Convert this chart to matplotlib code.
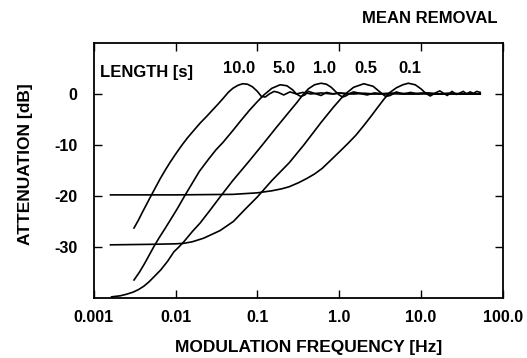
import matplotlib
matplotlib.use("Agg")
import matplotlib.pyplot as plt

plt.rcParams['font.family'] = ['Liberation Sans', 'DejaVu Sans']
plt.rcParams['font.weight'] = 'bold'

# Curves (frequency in Hz, attenuation in dB)
f_10 = [0.0031, 0.0035, 0.0039, 0.0044, 0.005, 0.0057, 0.0065, 0.0075, 0.0085, 0.01, 0.012, 0.014,
        0.0166, 0.02, 0.024, 0.0285, 0.033, 0.038, 0.044, 0.05, 0.058, 0.066, 0.076, 0.087, 0.1,
        0.112, 0.125, 0.14, 0.16, 0.18, 0.21, 0.25, 0.3, 0.36, 0.45, 0.6, 0.8, 1.0, 1.5, 2.0, 3.0,
        5.0, 8.0, 12.0, 20.0, 35.0, 53.0]
db_10 = [-26.3, -24.8, -23.3, -21.7, -20.0, -18.3, -16.6, -14.9, -13.5, -11.8, -10.0, -8.6,
         -7.2, -5.7, -4.4, -3.1, -2.0, -0.9, 0.3, 1.1, 1.7, 2.0, 1.9, 1.4, 0.5,
         -0.5, -0.6, 0.0, 0.5, 0.3, -0.2, 0.4, 0.0, 0.3, 0.0, 0.2, 0.0, 0.15, 0.0, 0.1, 0.0,
         0.1, 0.0, 0.1, 0.0, 0.05, 0.0]

f_5 = [0.0031, 0.0036, 0.0042, 0.0048, 0.0054, 0.0063, 0.0075, 0.0088, 0.0105, 0.0129, 0.016,
       0.0195, 0.025, 0.031, 0.038, 0.05, 0.063, 0.08, 0.1, 0.12, 0.15, 0.19, 0.23, 0.27, 0.3, 0.34,
       0.38, 0.42, 0.5, 0.6, 0.7, 0.85, 1.0, 1.3, 1.7, 2.5, 4.0, 6.0, 10.0, 15.0, 25.0, 40.0, 53.0]
db_5 = [-36.5, -35.0, -33.2, -31.5, -30.0, -28.2, -26.3, -24.5, -22.5, -20.0, -17.5,
        -15.2, -12.9, -11.0, -9.5, -7.2, -5.2, -3.2, -1.5, -0.2, 1.1, 1.8, 1.6, 0.8, 0.0, -0.5,
        -0.2, 0.5, 0.1, -0.3, 0.3, 0.0, 0.2, 0.0, 0.15, 0.0, 0.1, 0.0, 0.1, 0.0, 0.05, 0.0, 0.0]

f_1 = [0.00165, 0.0021, 0.0025, 0.003, 0.0035, 0.0041, 0.0047, 0.0055, 0.0066, 0.008, 0.0095,
       0.011, 0.0126, 0.016, 0.02, 0.027, 0.035, 0.05, 0.08, 0.115, 0.17, 0.245, 0.3, 0.355, 0.42,
       0.5, 0.6, 0.7, 0.8, 0.9, 1.0, 1.1, 1.2, 1.35, 1.5, 1.8, 2.2, 2.7, 3.5, 5.0, 7.0, 10.0, 15.0,
       25.0, 40.0, 53.0]
db_1 = [-39.8, -39.6, -39.3, -38.9, -38.4, -37.7, -36.9, -35.8, -34.5, -32.8, -31.0,
        -30.0, -29.0, -27.0, -25.3, -22.6, -20.2, -17.0, -13.1, -10.0, -6.6, -3.5, -1.8, -0.3, 1.0,
        1.8, 2.1, 1.9, 1.3, 0.5, -0.2, -0.6, -0.4, 0.1, 0.4, 0.1, -0.2, 0.2, 0.0, 0.15, 0.0, 0.1, 0.0,
        0.05, 0.0, 0.0]

f_05 = [0.0016, 0.005, 0.01, 0.0126, 0.016, 0.022, 0.035, 0.051, 0.07, 0.1, 0.15, 0.245, 0.37, 0.6,
        0.85, 1.15, 1.5, 2.0, 2.6, 3.2, 3.7, 4.2, 5.0, 6.0, 7.5, 9.0, 12.0, 16.0, 22.0, 30.0, 40.0, 53.0]
db_05 = [-29.6, -29.5, -29.4, -29.3, -29.0, -28.3, -26.8, -25.0, -22.7, -20.2, -17.0, -13.5, -10.0,
         -5.6, -2.6, -0.2, 1.3, 2.0, 1.5, 0.3, -0.5, -0.3, 0.4, 0.0, 0.3, 0.0, 0.2, 0.0, 0.15, 0.0, 0.1, 0.0]

f_01 = [0.0016, 0.01, 0.05, 0.1, 0.15, 0.2, 0.245, 0.32, 0.4, 0.5, 0.62, 0.8, 1.0, 1.3, 1.6, 2.0,
        2.5, 3.0, 3.5, 4.1, 5.0, 6.0, 7.0, 8.5, 10.0, 11.5, 13.0, 15.0, 17.0, 19.0, 21.0, 24.0, 27.0,
        30.0, 33.0, 36.0, 40.0, 44.0, 48.0, 53.0]
db_01 = [-19.8, -19.8, -19.7, -19.4, -19.0, -18.6, -18.2, -17.4, -16.6, -15.7, -14.6, -12.9, -11.4,
         -9.6, -8.1, -6.2, -4.2, -2.5, -1.1, 0.2, 1.2, 1.8, 2.1, 1.8, 1.0, 0.1, -0.4, 0.2, 0.6, 0.1,
         -0.3, 0.5, -0.1, 0.2, 0.5, 0.0, 0.4, 0.1, 0.5, 0.3]

series = [(f_10, db_10), (f_5, db_5), (f_1, db_1), (f_05, db_05), (f_01, db_01)]
length_labels = ["10.0", "5.0", "1.0", "0.5", "0.1"]
length_label_x = [0.059, 0.214, 0.66, 2.14, 7.4]

x_ticks = [0.001, 0.01, 0.1, 1.0, 10.0, 100.0]
x_tick_labels = ["0.001", "0.01", "0.1", "1.0", "10.0", "100.0"]
y_ticks = [0, -10, -20, -30]
y_tick_labels = ["0", "-10", "-20", "-30"]

fig = plt.figure(figsize=(5.27, 3.58), dpi=100)
ax = fig.add_axes([0.178, 0.168, 0.776, 0.712])

for fx, dbv in series:
    ax.plot(fx, dbv, color='black', lw=1.2)

ax.set_xscale('log')
ax.set_xlim(0.001, 100)
ax.set_ylim(-40, 10)
ax.set_xticks(x_ticks)
ax.set_xticklabels(x_tick_labels)
ax.minorticks_off()
ax.set_yticks(y_ticks)
ax.set_yticklabels(y_tick_labels)
ax.tick_params(direction='in', length=6, width=1.0, top=True, right=True, labelsize=11.5)
ax.tick_params(axis='x', pad=9)
ax.tick_params(axis='y', pad=12)
for lab in ax.get_xticklabels() + ax.get_yticklabels():
    lab.set_fontweight('bold')
for s in ax.spines.values():
    s.set_linewidth(1.3)

ax.text(0.00118, 4.3, "LENGTH [s]", fontsize=12, fontweight='bold', ha='left', va='center')
for lbl, lx in zip(length_labels, length_label_x):
    ax.text(lx, 5.0, lbl, fontsize=12, fontweight='bold', ha='center', va='center')

ax.set_xlabel("MODULATION FREQUENCY [Hz]", fontsize=12.5, fontweight='bold')
ax.xaxis.set_label_coords(0.525, -0.165)
ax.set_ylabel("ATTENUATION [dB]", fontsize=12.5, fontweight='bold')
ax.yaxis.set_label_coords(-0.148, 0.525)
fig.text(0.945, 0.947, "MEAN REMOVAL", fontsize=12, fontweight='bold', ha='right', va='center')

fig.savefig("out.png", dpi=100)
